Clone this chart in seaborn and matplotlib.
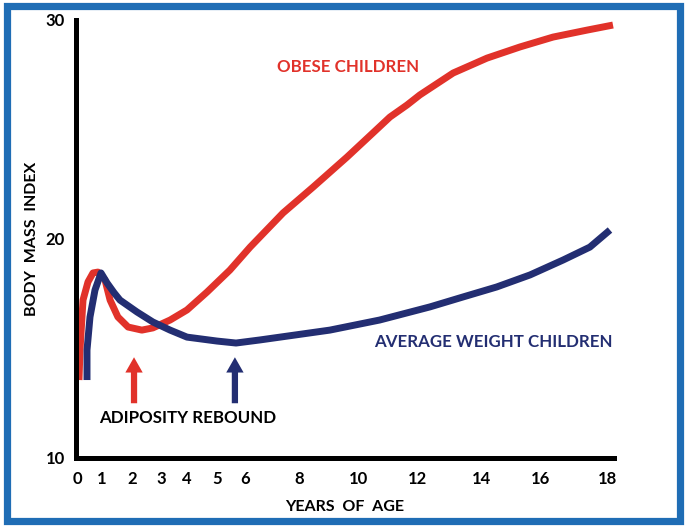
import numpy as np
import pandas as pd
import matplotlib as mpl
import matplotlib.pyplot as plt
from matplotlib.patches import Rectangle
import seaborn as sns

# @title Data
red_age = [0.08, 0.12, 0.24, 0.44, 0.64, 0.84, 1.1, 1.27, 1.53, 1.87, 2.34, 2.72, 3.35,
           4.0, 4.67, 5.46, 6.19, 7.41, 8.47, 9.6, 10.47, 11.05, 11.63, 12.06, 13.1,
           14.17, 15.29, 16.36, 17.38, 18.15]
red_bmi = [13.56, 14.93, 17.21, 18.04, 18.45, 18.49, 18.13, 17.21, 16.44, 15.98, 15.84,
           15.94, 16.3, 16.76, 17.58, 18.58, 19.63, 21.19, 22.37, 23.74, 24.84, 25.57,
           26.12, 26.58, 27.58, 28.26, 28.77, 29.22, 29.54, 29.77]

blue_age = [0.4, 0.4, 0.52, 0.72, 0.96, 1.17, 1.4, 1.6, 2.17, 2.72, 3.35, 4.0, 5.0, 5.68,
            6.55, 7.3, 9.03, 10.7, 12.375, 13.4, 14.5, 15.63, 16.66, 17.46, 18.06]
blue_bmi = [13.56, 14.93, 16.44, 17.67, 18.45, 17.99, 17.55, 17.21, 16.67, 16.21, 15.84,
            15.52, 15.34, 15.25, 15.39, 15.52, 15.84, 16.3, 16.9, 17.35, 17.81, 18.36,
            19.04, 19.63, 20.41]

x_ticks = [0, 1, 2, 3, 4, 5, 6, 8, 10, 12, 14, 16, 18]
y_ticks = [10, 20, 30]

# adiposity rebound ages
rebound_red = 2.07
rebound_blue = 5.64

# @title Design
c_red = "#E1322A"
c_blue = "#232E72"
c_frame = "#1F6DB5"

sns.set_style("white")
plt.rcParams['font.family'] = ['Lato', 'DejaVu Sans']

# uneven x axis of the original drawing (0-6 wide, 6-18 compressed)
tick_pix = [77, 102, 132, 161, 187, 217, 245, 299, 359, 418, 482, 541, 608]
anchor_x = [-2] + x_ticks + [22]
anchor_p = [27] + tick_pix + [742]

def fwd(x):
    return np.interp(x, anchor_x, anchor_p)

def inv(p):
    return np.interp(p, anchor_p, anchor_x)

fig = plt.figure(figsize=(6.85, 5.27), dpi=100)
ax = fig.add_axes([76 / 685, 1 - 458 / 527, (614 - 76) / 685, (458 - 20) / 527])
ax.set_xscale('function', functions=(fwd, inv))

df_red = pd.DataFrame({'age': red_age, 'bmi': red_bmi})
df_blue = pd.DataFrame({'age': blue_age, 'bmi': blue_bmi})
sns.lineplot(data=df_red, x='age', y='bmi', ax=ax, color=c_red, lw=5.0, sort=False,
             estimator=None, solid_capstyle='butt', solid_joinstyle='round')
sns.lineplot(data=df_blue, x='age', y='bmi', ax=ax, color=c_blue, lw=5.0, sort=False,
             estimator=None, solid_capstyle='butt', solid_joinstyle='round')

ax.set_xlim(-0.04, 18.18)
ax.set_ylim(10, 30)
ax.set_xticks(x_ticks)
ax.set_xticklabels([str(t) for t in x_ticks])
ax.set_yticks(y_ticks)
ax.tick_params(length=0, labelsize=12)
ax.tick_params(axis='x', pad=9)
ax.tick_params(axis='y', pad=8)
for lab in ax.get_xticklabels() + ax.get_yticklabels():
    lab.set_fontweight('bold')
    lab.set_color('black')

sns.despine(ax=ax)
for s in ['left', 'bottom']:
    ax.spines[s].set_linewidth(3.6)
    ax.spines[s].set_color('black')

ax.set_xlabel("YEARS  OF  AGE", fontsize=11.5, labelpad=10, color='black',
              fontweight='bold')
ax.set_ylabel("BODY  MASS  INDEX", fontsize=11.5, labelpad=5, color='black',
              fontweight='bold')

# labels
ax.text(9.65, 27.85, "OBESE CHILDREN", color=c_red, fontsize=12.2, fontweight='bold',
        ha='center', va='center')
ax.text(18.15, 15.3, "AVERAGE WEIGHT CHILDREN", color=c_blue, fontsize=12.2,
        fontweight='bold', ha='right', va='center')
ax.text(4.02, 11.83, "ADIPOSITY REBOUND", color='black', fontsize=12.2,
        fontweight='bold', ha='center', va='center')

for xr, cc in [(rebound_red, c_red), (rebound_blue, c_blue)]:
    ax.annotate("", xy=(xr, 14.6), xytext=(xr, 12.5),
                arrowprops=dict(arrowstyle='simple,head_length=1.1,head_width=1.25,tail_width=0.45',
                                color=cc, lw=0, mutation_scale=10, shrinkA=0, shrinkB=0))

# blue frame around the picture
fig.patches.append(Rectangle((6.5 / 685, 6 / 527), 673.5 / 685, 515 / 527,
                             transform=fig.transFigure, fill=False,
                             edgecolor=c_frame, lw=5.2))

plt.savefig('out.png', dpi=100)
